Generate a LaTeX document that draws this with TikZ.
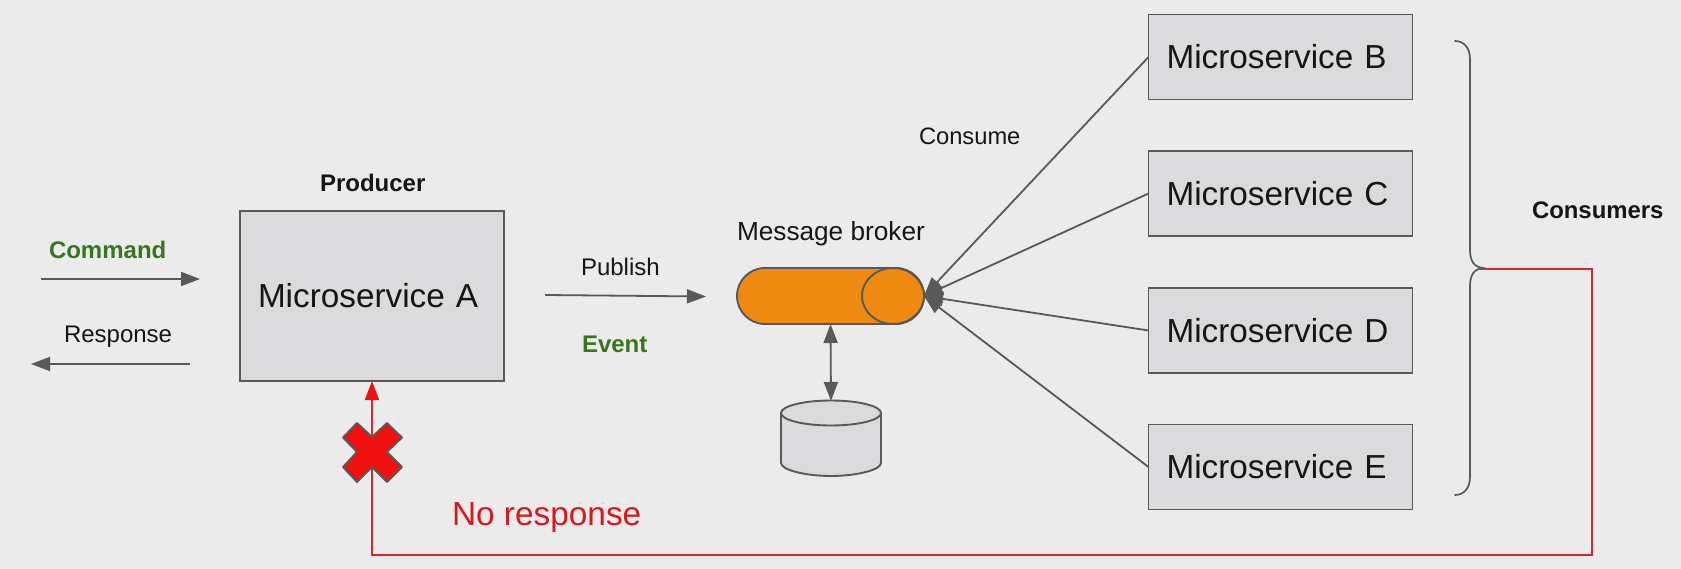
\documentclass[tikz,border=0pt]{standalone}
\usepackage{fontspec}
\setmainfont{Liberation Sans}
\usetikzlibrary{arrows.meta,shapes.geometric,shapes.misc}
\definecolor{bgc}{HTML}{EBEBEB}
\definecolor{boxc}{HTML}{DBDADC}
\definecolor{linec}{HTML}{595959}
\definecolor{orangec}{HTML}{EF8A12}
\definecolor{greenc}{HTML}{38761D}
\definecolor{redline}{HTML}{D9252B}
\definecolor{redtip}{HTML}{F01010}
\definecolor{redtext}{HTML}{D8181C}
\definecolor{inkc}{HTML}{161616}
\tikzset{
  x=1pt,y=-1pt,
  every node/.style={outer sep=0pt,inner sep=0pt,text=inkc},
  svcbox/.style={draw=linec,line width=1.9pt,fill=boxc,minimum height=85pt,
    text width=228pt,inner xsep=18pt,align=left,
    font=\fontsize{33.3}{38}\selectfont},
  lab/.style={anchor=base west,font=\fontsize{24}{28}\selectfont},
  blab/.style={anchor=base west,font=\fontsize{24}{28}\selectfont\bfseries},
  glab/.style={blab,text=greenc},
  arr/.style={draw=linec,line width=1.8pt,-{Triangle[length=19pt,width=14pt,fill=linec]}},
  darr/.style={draw=linec,line width=1.8pt,{Triangle[length=19pt,width=14pt,fill=linec]}-{Triangle[length=19pt,width=14pt,fill=linec]}},
  redarr/.style={draw=redline,line width=2pt,-{Triangle[length=19pt,width=14pt,fill=redtip,color=redtip]}},
  shapeline/.style={draw=linec,line width=1.9pt},
}
\begin{document}
\begin{tikzpicture}
\useasboundingbox (0,0) rectangle (1681,569);
\fill[bgc] (0,0) rectangle (1681,569);

% services
\node[svcbox,minimum height=170pt] (A) at (372,296) {Microservice A};
\node[svcbox] (B) at (1280.5,57) {Microservice B};
\node[svcbox] (C) at (1280.5,193.5) {Microservice C};
\node[svcbox] (D) at (1280.5,330.5) {Microservice D};
\node[svcbox] (E) at (1280.5,467) {Microservice E};

% broker
\node[rounded rectangle,draw=linec,line width=1.9pt,fill=orangec,minimum width=187pt,minimum height=56pt] (broker) at (830.5,296) {};
\node[ellipse,draw=linec,line width=1.9pt,fill=orangec,minimum width=62pt,minimum height=56pt] (brokercap) at (893,296) {};

% store
\node[minimum width=100pt,minimum height=75pt] (db) at (831,438.5) {};
\path[shapeline,fill=boxc] (781,413) -- (781,463) .. controls (781,470) and (806,476) .. (831,476)
  .. controls (856,476) and (881,470) .. (881,463) -- (881,413) -- cycle;
\path[shapeline,fill=boxc] (831,413) ellipse [x radius=50,y radius=12.5];

% free ends
\coordinate (cmdS) at (41,279);
\coordinate (cmdE) at (200,279);
\coordinate (respS) at (190,364);
\coordinate (respE) at (31,364);
\coordinate (pubS) at (545,295);
\coordinate (pubE) at (706,296.5);
\coordinate (atip) at (372,381);
\coordinate (brace) at (1480,269.5);
\coordinate (rc1) at (1592,269.5);
\coordinate (rc2) at (1592,555);
\coordinate (rc3) at (372,555);

% connectors
\draw[arr] (cmdS) -- (cmdE);
\draw[arr] (respS) -- (respE);
\draw[arr] (pubS) -- (pubE);
\draw[darr] (broker.south) -- (db.north);
\draw[arr] (B.west) -- (broker.east);
\draw[arr] (C.west) -- (broker.east);
\draw[arr] (D.west) -- (broker.east);
\draw[arr] (E.west) -- (broker.east);
\draw[redarr] (brace) -- (rc1) -- (rc2) -- (rc3) -- (atip);

% bracket
\draw[draw=linec,line width=1.7pt,line cap=round]
  (1455,41) .. controls (1464,41) and (1470,48) .. (1470,59)
  -- (1470,250) .. controls (1470,261) and (1474,267) .. (1483,268)
  .. controls (1474,269) and (1470,275) .. (1470,286)
  -- (1470,477) .. controls (1470,488) and (1464,495) .. (1455,495);

% cross
\path[draw=linec,line width=1.9pt,fill=redtip,line join=round]
  (372,437) -- (387,423) -- (402,437.5) -- (387,452) -- (402,467) -- (387,482)
  -- (372,467) -- (357,482) -- (343,467) -- (357,452) -- (343,437.5) -- (357,423) -- cycle;

% labels
\node[blab] (producer) at (320,192) {Producer};
\node[glab] (command) at (49,258.5) {Command};
\node[lab] (response) at (64,342) {Response};
\node[lab] (publish) at (581,276) {Publish};
\node[glab] (event) at (582,352) {Event};
\node[anchor=base west,font=\fontsize{26.2}{30}\selectfont] (brokerlab) at (737,241) {Message broker};
\node[lab,font=\fontsize{23.7}{28}\selectfont] (consume) at (919,144.5) {Consume};
\node[blab,font=\fontsize{23.9}{28}\selectfont\bfseries] (consumers) at (1532,219) {Consumers};
\node[anchor=base west,text=redtext,font=\fontsize{33.4}{38}\selectfont] (nores) at (452,525.5) {No response};
\end{tikzpicture}
\end{document}
